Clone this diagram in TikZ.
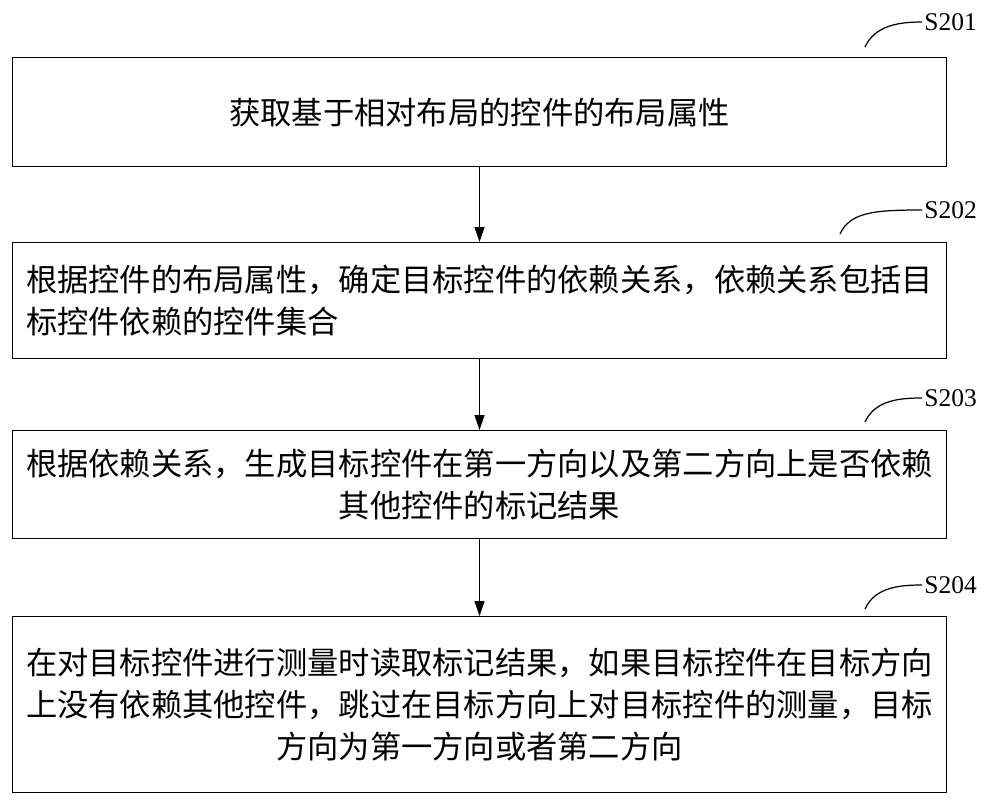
\documentclass[tikz,border=0pt]{standalone}
\usepackage{fontspec}
\setmainfont{Liberation Serif}
\newfontfamily\cjk{Noto Sans CJK SC}
\usetikzlibrary{positioning}
\usetikzlibrary{arrows.meta}
\begin{document}
\begin{tikzpicture}[x=0.02cm, y=-0.02cm, thick,
    stepbox/.style = {draw, line width=0.7pt, minimum width=18.68cm, inner sep=0pt,
      font=\cjk\fontsize{17.8}{24}\selectfont},
    tag/.style = {font=\fontsize{14.5}{16}\selectfont, anchor=west, inner sep=1pt},
    arr/.style = {-{Triangle[length=0.3cm, width=0.2cm]}, line width=0.7pt}]
        \useasboundingbox (0,0) rectangle (1000,811);
        %boxes
        \node[stepbox, minimum height=2.18cm, anchor=north west] (s1) at (12,57) {获取基于相对布局的控件的布局属性};
        \node[stepbox, minimum height=2.32cm, anchor=north west, align=left] (s2) at (12,242) {根据控件的布局属性，确定目标控件的依赖关系，依赖关系包括目\\标控件依赖的控件集合};
        \node[stepbox, minimum height=2.16cm, anchor=north west, align=center] (s3) at (12,430) {根据依赖关系，生成目标控件在第一方向以及第二方向上是否依赖\\其他控件的标记结果};
        \node[stepbox, minimum height=3.52cm, anchor=north west, align=center] (s4) at (12,616) {在对目标控件进行测量时读取标记结果，如果目标控件在目标方向\\上没有依赖其他控件，跳过在目标方向上对目标控件的测量，目标\\方向为第一方向或者第二方向};
        %tags
        \node[tag] (t1) at (922,22) {S201};
        \node[tag] (t2) at (922,210) {S202};
        \node[tag] (t3) at (922,398) {S203};
        \node[tag] (t4) at (922,585) {S204};
        \draw[line width=0.7pt] (865,47) .. controls (875,25) and (900,22) .. (t1.west);
        \draw[line width=0.7pt] (840,234) .. controls (850,212) and (875,210) .. (t2.west);
        \draw[line width=0.7pt] (865,422) .. controls (875,400) and (900,398) .. (t3.west);
        \draw[line width=0.7pt] (865,609) .. controls (875,587) and (900,585) .. (t4.west);
        %arrows
        \draw[arr] (s1) -- (s2);
        \draw[arr] (s2) -- (s3);
        \draw[arr] (s3) -- (s4);
\end{tikzpicture}
\end{document}
